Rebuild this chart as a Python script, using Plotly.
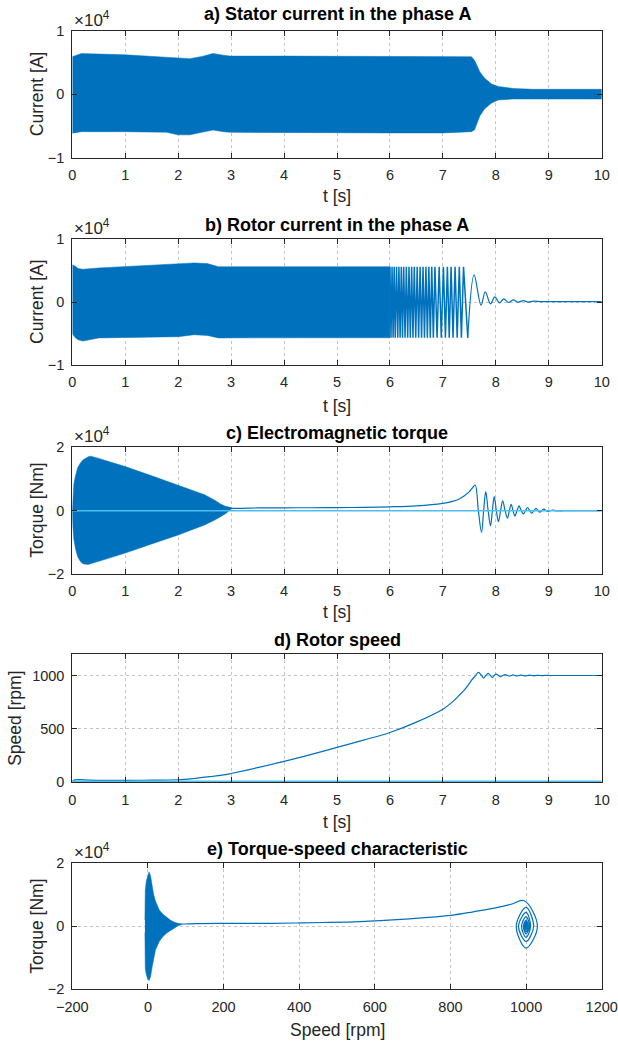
import plotly.graph_objects as go

BLUE = "#0072BD"
CYAN = "#4DBEEE"
AX = "#262626"

# ---------- a) stator current envelope (A) ----------
t_a_env = [0, 0.17, 1.0, 1.78, 2.0, 2.22, 2.45, 2.66, 2.85, 2.98, 4.0, 5.0, 6.0, 7.0, 7.54, 7.6, 7.64, 7.7, 7.79, 7.92, 8.05, 8.33, 8.7, 9.5, 10.0]
ia_upper = [5900, 6400, 6200, 5800, 5650, 5600, 5950, 6400, 6150, 6000, 6000, 5950, 5900, 5900, 5900, 5300, 4600, 3500, 2500, 1600, 1200, 900, 770, 770, 770]
ia_lower = [-6150, -5900, -5900, -6000, -6400, -6400, -6000, -5650, -5900, -6000, -6100, -6100, -6100, -6100, -5900, -5600, -4700, -3400, -2300, -1400, -900, -760, -760, -760, -760]

# ---------- b) rotor current (A) ----------
t_b_env = [0, 0.05, 0.11, 0.2, 0.5, 1.0, 1.5, 2.0, 2.3, 2.55, 2.76, 2.98, 4.0, 5.0, 6.0]
ib_upper = [5900, 5700, 5300, 5200, 5400, 5600, 5800, 6000, 6200, 6100, 5600, 5600, 5600, 5600, 5600]
ib_lower = [-5000, -5600, -6000, -6200, -5700, -5670, -5600, -5500, -5200, -5300, -5700, -5670, -5670, -5670, -5670]
t_b_osc = [6.00, 6.02, 6.04, 6.06, 6.08, 6.10, 6.125, 6.147, 6.17, 6.192, 6.215, 6.237, 6.26, 6.285,
           6.31, 6.335, 6.36, 6.385, 6.41, 6.435, 6.46, 6.487, 6.515, 6.542, 6.57, 6.597, 6.625, 6.652,
           6.68, 6.707, 6.735, 6.762, 6.79, 6.82, 6.85, 6.89, 6.93, 6.97, 7.01, 7.048, 7.085, 7.12,
           7.155, 7.192, 7.23, 7.27, 7.31, 7.35, 7.39, 7.47]
ib_osc = [5600, -5670, 5600, -5670, 5600, -5670, 5600, -5670, 5600, -5670, 5600, -5670, 5600, -5670,
          5600, -5670, 5600, -5670, 5600, -5670, 5600, -5670, 5600, -5670, 5600, -5670, 5600, -5670,
          5600, -5670, 5600, -5670, 5600, -5670, 5600, -5670, 5600, -5670, 5600, -5670, 5600, -5670,
          5600, -5670, 5600, -5670, 5600, -5670, 5600, -5670]
t_b_dec = [7.47, 7.59, 7.72, 7.80, 7.90, 7.98, 8.07, 8.15, 8.24, 8.33, 8.42, 8.52, 8.61, 8.71, 8.85, 9.0, 10.0]
ib_dec = [-5670, 4300, -500, 1600, -300, 800, -150, 500, -80, 330, -40, 230, -20, 150, 60, 50, 50]

# ---------- c) electromagnetic torque (Nm) ----------
t_c_env = [0, 0.01, 0.03, 0.06, 0.1, 0.15, 0.2, 0.3, 0.35, 0.5, 1.0, 1.5, 2.0, 2.3, 2.5, 2.7, 2.8, 2.9, 3.0]
te_upper = [0, 5000, 8500, 11000, 13500, 15000, 16000, 17000, 17200, 16500, 13900, 11000, 8100, 6300, 5000, 3200, 2100, 1300, 900]
te_lower = [0, -5000, -9000, -12000, -14500, -16000, -16800, -17000, -16900, -16000, -13400, -10500, -7700, -5800, -4500, -2900, -1900, -900, 500]

# common time base for t >= 2.9 s (torque line, speed, torque-speed curve)
t_line = [2.9, 3.0, 3.5, 4.0, 4.5, 5.0, 5.5, 6.0, 6.5, 7.0, 7.2, 7.3, 7.4, 7.5, 7.55, 7.61,
          7.67, 7.73, 7.77, 7.81, 7.855, 7.90, 7.935, 7.97, 8.01, 8.05, 8.09, 8.13, 8.175, 8.22,
          8.255, 8.29, 8.325, 8.36, 8.40, 8.44, 8.48, 8.52, 8.56, 8.60, 8.64, 8.68, 8.72, 8.76,
          8.80, 8.83, 8.87, 8.91, 8.95, 8.99, 9.03, 9.07, 9.15, 9.3, 10.0]
te_line = [1200, 800, 850, 900, 920, 950, 1050, 1200, 1500, 2300, 3000, 3600, 4600, 6000, 7000, 8100,
           0, -6900, 0, 6000, 0, -4800, 0, 4400, 0, -3500, 0, 3100, 0, -2400,
           0, 2000, 0, -1700, 0, 1500, 0, -1000, 0, 1000, 0, -800, 0, 700,
           0, -500, 0, 500, 0, -300, 0, 200, -100, 0, 0]
speed_line = [65, 75, 130, 189, 253, 321, 390, 462, 560, 682, 760, 810, 860, 925, 960, 995,
              1030, 1000, 974, 1000, 1020, 1000, 980, 1000, 1012, 1000, 988, 1000, 1009, 1000,
              993, 1000, 1006, 1000, 995, 1000, 1004, 1000, 997, 1000, 1003, 1000, 998, 1000,
              1002, 1000, 999, 1000, 1001, 1000, 999.5, 1000, 1000, 1000, 1000]
t_load = [0, 10]
te_load = [0, 0]

# ---------- d) rotor speed (rpm), start-up part ----------
t_speed0 = [0, 0.05, 0.15, 0.3, 0.6, 1.0, 1.5, 2.0, 2.3, 2.6, 2.9]
speed0 = [0, 15, 18, 12, 10, 10, 12, 16, 28, 45, 65]
t_ref = [0, 10]
speed_ref = [0, 0]

# ---------- e) torque-speed, start-up band ----------
sp_env = [-8, -7, -4, 0, 3, 7, 11, 15, 20, 30, 40, 50, 60, 70, 80, 90]
te_env_up = [2000, 11500, 14500, 16500, 17300, 16000, 13000, 10200, 8000, 5200, 3800, 2800, 1900, 1300, 1000, 800]
te_env_lo = [-2000, -13500, -15500, -16800, -17200, -16000, -13000, -10000, -7500, -4800, -3200, -2100, -1200, -500, 200, 600]

t_ticks = list(range(0, 11))
sp_ticks = [-200, 0, 200, 400, 600, 800, 1000, 1200]

fig = go.Figure()

def band(x, up, lo, xa, ya):
    fig.add_trace(go.Scatter(x=x + x[::-1], y=up + lo[::-1], mode="lines", fill="toself",
                             fillcolor=BLUE, line=dict(color=BLUE, width=0.5),
                             xaxis=xa, yaxis=ya, hoverinfo="skip"))

def line(x, y, xa, ya, color=BLUE, width=1.2, shape="linear"):
    fig.add_trace(go.Scatter(x=x, y=y, mode="lines", line=dict(color=color, width=width, shape=shape),
                             xaxis=xa, yaxis=ya, hoverinfo="skip"))

# a
band(t_a_env, ia_upper, ia_lower, "x", "y")
# b
band(t_b_env, ib_upper, ib_lower, "x2", "y2")
line(t_b_osc, ib_osc, "x2", "y2", width=1.5)
line(t_b_dec, ib_dec, "x2", "y2", width=1.2, shape="spline")
# c
band(t_c_env, te_upper, te_lower, "x3", "y3")
line(t_line, te_line, "x3", "y3", shape="spline")
line(t_load, te_load, "x3", "y3", color=CYAN, width=1.5)
# d
line(t_speed0 + t_line[1:], speed0 + speed_line[1:], "x4", "y4", shape="spline")
line(t_ref, speed_ref, "x4", "y4", color=CYAN, width=2)
# e
band(sp_env, te_env_up, te_env_lo, "x5", "y5")
line(speed_line, te_line, "x5", "y5", shape="spline")

W, H = 618, 1043
x0, x1 = 72.3, 601.7
panels = [(30.7, 157.7), (239, 365), (447.3, 574), (654.3, 782.3), (863.3, 989.3)]

common = dict(showline=True, linecolor=AX, linewidth=1, mirror="ticks", ticks="inside", ticklen=5,
              tickcolor=AX, showgrid=True, gridcolor="#c4c4c4", griddash="dot", gridwidth=1,
              zeroline=False, automargin=False,
              tickfont=dict(family="Liberation Sans, Arial", size=14.5, color=AX),
              layer="above traces")

layout = dict(width=W, height=H, margin=dict(l=0, r=0, t=0, b=0, pad=0), paper_bgcolor="white",
              plot_bgcolor="white", showlegend=False)

yspecs = [
    dict(range=[-1e4, 1e4], tickvals=[-1e4, 0, 1e4], ticktext=["\u22121", "0", "1"]),
    dict(range=[-1e4, 1e4], tickvals=[-1e4, 0, 1e4], ticktext=["\u22121", "0", "1"]),
    dict(range=[-2e4, 2e4], tickvals=[-2e4, 0, 2e4], ticktext=["\u22122", "0", "2"]),
    dict(range=[-8, 1200], tickvals=[0, 500, 1000], ticktext=["0", "500", "1000"]),
    dict(range=[-2e4, 2e4], tickvals=[-2e4, 0, 2e4], ticktext=["\u22122", "0", "2"]),
]
for i, (top, bot) in enumerate(panels):
    n = "" if i == 0 else str(i + 1)
    dom_y = [1 - bot / H, 1 - top / H]
    if i < 4:
        xs = dict(range=[0, 10], tickvals=t_ticks)
    else:
        xs = dict(range=[-200, 1200], tickvals=sp_ticks,
                  ticktext=["\u2212200"] + [str(v) for v in sp_ticks[1:]])
    layout["xaxis" + n] = dict(common, domain=[x0 / W, x1 / W], anchor="y" + n, ticklabelstandoff=4, **xs)
    layout["yaxis" + n] = dict(common, domain=dom_y, anchor="x" + n, ticklabelstandoff=4, **yspecs[i])

fig.update_layout(**layout)

def ann(text, xpx, ypx, size, bold=False, angle=0, xanchor="center", yanchor="middle", color="black"):
    fig.add_annotation(x=xpx / W, y=1 - ypx / H, xref="paper", yref="paper",
                       showarrow=False, text=("<b>%s</b>" % text) if bold else text, textangle=angle,
                       xanchor=xanchor, yanchor=yanchor,
                       font=dict(family="Liberation Sans, Arial", size=size, color=color))

xc = (x0 + x1) / 2
titles = ["a) Stator current in the phase A", "b) Rotor current in the phase A",
          "c) Electromagnetic torque", "d) Rotor speed", "e) Torque-speed characteristic"]
title_y = [14, 225, 433, 640, 849]
for t, y in zip(titles, title_y):
    ann(t, xc, y, 18, bold=True)

xlabels = ["t [s]", "t [s]", "t [s]", "t [s]", "Speed [rpm]"]
xlabel_y = [196, 406, 612, 822, 1030]
for t, y in zip(xlabels, xlabel_y):
    ann(t, xc, y, 17.5, color=AX)

ylabels = ["Current [A]", "Current [A]", "Torque [Nm]", "Speed [rpm]", "Torque [Nm]"]
ylabel_x = [37, 37, 37, 15.5, 37.5]
for t, xp, (top, bot) in zip(ylabels, ylabel_x, panels):
    ann(t, xp, (top + bot) / 2, 17.5, angle=-90, color=AX)

for i, (top, bot) in enumerate(panels):
    if i == 3:
        continue
    ann("\u00d710<sup>4</sup>", x0, top + 1, 17, xanchor="left", yanchor="bottom", color=AX)

fig.write_html("out.html", config={"displayModeBar": False},
               post_script="document.body.style.margin='0';document.body.style.overflow='hidden';")
